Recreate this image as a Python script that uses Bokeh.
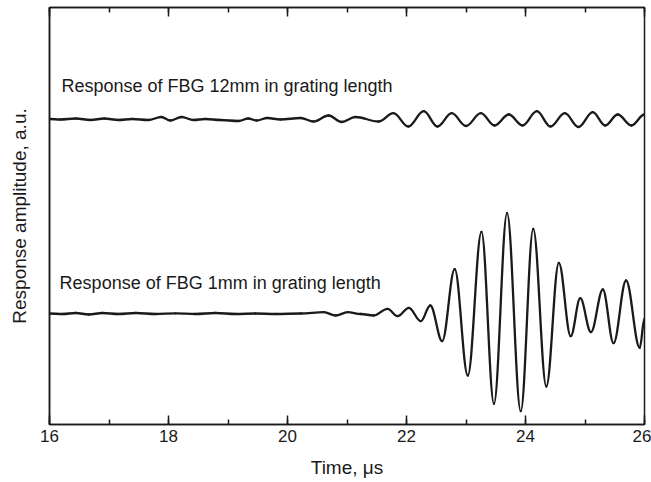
from bokeh.plotting import figure
from bokeh.models import Range1d, LinearAxis, SingleIntervalTicker, FixedTicker
from bokeh.core.properties import value
from bokeh.embed import file_html
from bokeh.resources import INLINE

# ---- data (extrema of each trace) ----
t_12mm = [16.00, 16.18, 16.44, 16.69, 16.92, 17.16, 17.39, 17.66, 17.88, 18.03,
          18.22, 18.42, 18.62, 18.87, 19.18, 19.34, 19.48, 19.66, 19.88, 20.22,
          20.44, 20.69, 20.91, 21.14, 21.53, 21.78, 22.03, 22.29, 22.52, 22.76,
          23.00, 23.25, 23.48, 23.72, 23.95, 24.19, 24.42, 24.66, 24.89, 25.13,
          25.34, 25.55, 25.78, 26.00]
a_12mm = [0.05, 0.0, 0.1, -0.05, 0.1, -0.05, 0.05, -0.05, 0.25, -0.1,
          0.25, -0.05, 0.05, -0.05, -0.15, 0.1, -0.1, 0.15, 0.0, 0.15,
          -0.2, 0.4, -0.25, 0.25, -0.2, 0.63, -0.7, 0.83, -0.7, 0.63,
          -0.65, 0.63, -0.6, 0.5, -0.6, 0.83, -0.7, 0.63, -0.75, 0.73,
          -0.6, 0.5, -0.6, 0.5]

t_1mm = [16.00, 16.22, 16.44, 16.66, 16.89, 17.16, 17.45, 17.78, 18.12, 18.45,
         18.79, 19.13, 19.46, 19.80, 20.22, 20.61, 20.81, 21.01, 21.23, 21.45,
         21.68, 21.85, 22.04, 22.24, 22.40, 22.60, 22.81, 23.03, 23.26, 23.47,
         23.69, 23.92, 24.13, 24.35, 24.56, 24.76, 24.92, 25.10, 25.30, 25.48,
         25.69, 25.92, 26.00]
a_1mm = [0.0, -0.05, 0.05, -0.1, 0.05, -0.05, 0.05, -0.05, 0.02, -0.05,
         0.05, -0.05, 0.0, -0.05, 0.0, 0.13, -0.2, 0.13, -0.05, -0.2,
         0.47, -0.27, 0.57, -0.77, 0.8, -2.77, 4.43, -6.2, 8.17, -9.03,
         10.03, -9.77, 8.47, -7.3, 5.07, -2.27, 1.53, -1.87, 2.4, -2.97,
         3.3, -3.43, -0.5]

offset_12mm = 19.4   # vertical offset of the upper trace
offset_1mm = 0.0

labels = ["Response of FBG 12mm in grating length",
          "Response of FBG 1mm in grating length"]
x_ticks = [16, 18, 20, 22, 24, 26]

FONT = "Liberation Sans"
INK = "#1a1a1a"

p = figure(width=651, height=482, output_backend="svg", toolbar_location=None,
           x_range=Range1d(16, 26), y_range=Range1d(-11.1, 30.6),
           min_border_left=49, min_border_right=7, min_border_top=7,
           min_border_bottom=58, x_axis_location="below")
p.grid.visible = False
p.background_fill_color = "white"
p.border_fill_color = "white"
p.outline_line_color = INK
p.outline_line_width = 1.5


def style_ticks(ax):
    ax.major_tick_in = 9
    ax.major_tick_out = 0
    ax.minor_tick_in = 5
    ax.minor_tick_out = 0
    ax.axis_line_color = INK
    ax.axis_line_width = 1.5
    ax.major_tick_line_color = INK
    ax.major_tick_line_width = 1.5
    ax.minor_tick_line_color = INK
    ax.minor_tick_line_width = 1.5


# bottom axis
xa = p.xaxis[0]
xa.ticker = SingleIntervalTicker(interval=2, num_minor_ticks=2)
style_ticks(xa)
xa.major_label_text_font = FONT
xa.major_label_text_font_size = "17px"
xa.major_label_text_color = INK
xa.major_label_standoff = 5
xa.axis_label = "Time, μs"
xa.axis_label_text_font = FONT
xa.axis_label_text_font_size = "19px"
xa.axis_label_text_font_style = "normal"
xa.axis_label_text_color = INK
xa.axis_label_standoff = 12

# top axis: ticks only
ta = LinearAxis(ticker=SingleIntervalTicker(interval=2, num_minor_ticks=2))
style_ticks(ta)
ta.major_label_overrides = {t: "" for t in x_ticks}
ta.major_label_standoff = 0
p.add_layout(ta, "above")

# left axis: label only
ya = p.yaxis[0]
ya.ticker = FixedTicker(ticks=[])
ya.major_tick_in = 0
ya.major_tick_out = 0
ya.minor_tick_in = 0
ya.minor_tick_out = 0
ya.major_label_standoff = 0
ya.axis_line_color = INK
ya.axis_line_width = 1.5
ya.axis_label = "Response amplitude, a.u."
ya.axis_label_text_font = FONT
ya.axis_label_text_font_size = "19px"
ya.axis_label_text_font_style = "normal"
ya.axis_label_text_color = INK
ya.axis_label_standoff = 20

K = 1 - 2 / 3.141592653589793  # smooth half-wave control-point fraction


def draw_trace(ts, amps, off):
    x0 = ts[:-1]
    x1 = ts[1:]
    y0 = [a + off for a in amps[:-1]]
    y1 = [a + off for a in amps[1:]]
    cx0 = [a + K * (b - a) for a, b in zip(x0, x1)]
    cx1 = [b - K * (b - a) for a, b in zip(x0, x1)]
    p.bezier(x0=x0, y0=y0, x1=x1, y1=y1, cx0=cx0, cy0=y0, cx1=cx1, cy1=y1,
             line_color=INK, line_width=2.3, line_cap="round")


draw_trace(t_12mm, a_12mm, offset_12mm)
draw_trace(t_1mm, a_1mm, offset_1mm)

p.text(x=[16.20, 16.17], y=[22.8, 3.1], text=labels,
       text_font=value(FONT), text_font_size="18px", text_color=INK,
       text_baseline="middle", text_align="left")

open("out.html", "w").write(file_html(p, INLINE))
